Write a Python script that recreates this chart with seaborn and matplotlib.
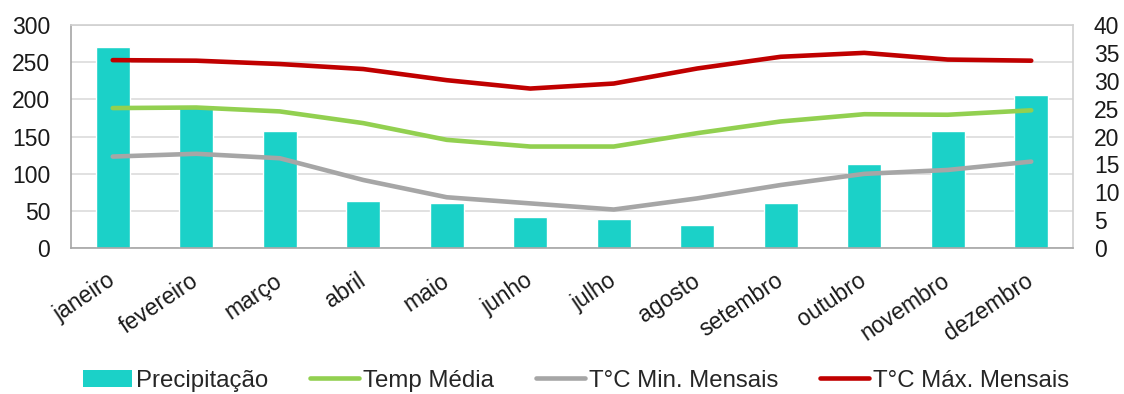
import numpy as np
import pandas as pd
import matplotlib
matplotlib.use("Agg")
import matplotlib.pyplot as plt
from matplotlib.patches import Patch
from matplotlib.lines import Line2D
import seaborn as sns

# Monthly climate normals
meses = ["janeiro", "fevereiro", "março", "abril", "maio", "junho",
         "julho", "agosto", "setembro", "outubro", "novembro", "dezembro"]
precipitacao = [270, 192, 158, 63, 60, 42, 39, 31, 61, 113, 157, 206]
temp_media = [25.1, 25.2, 24.5, 22.4, 19.4, 18.2, 18.2, 20.6, 22.7, 24.0, 23.9, 24.7]
temp_min = [16.4, 16.9, 16.1, 12.2, 9.1, 8.0, 6.9, 8.9, 11.3, 13.3, 14.0, 15.5]
temp_max = [33.7, 33.6, 33.0, 32.1, 30.1, 28.6, 29.5, 32.2, 34.3, 35.0, 33.8, 33.6]

rotulos_esq = [0, 50, 100, 150, 200, 250, 300]
rotulos_dir = [0, 5, 10, 15, 20, 25, 30, 35, 40]

nomes = ["Precipitação", "Temp Média", "T°C Min. Mensais", "T°C Máx. Mensais"]
cores = ["#1BD1C8", "#92D050", "#A6A6A6", "#C00000"]

sns.set_style("white")
plt.rcParams["font.family"] = ["Liberation Sans", "DejaVu Sans"]
FS = 16.5

fig = plt.figure(figsize=(11.24, 3.94), dpi=100)
ax = fig.add_axes([71 / 1124, 1 - 248 / 394, (1073 - 71) / 1124, (248 - 25) / 394])

df_bar = pd.DataFrame({"mes": meses, "precip": precipitacao})
sns.barplot(data=df_bar, x="mes", y="precip", color=cores[0], saturation=1,
            width=0.41, ax=ax, zorder=2)

ax.set_ylim(0, 300)
ax.set_yticks(rotulos_esq)
ax.set_xlim(-0.5, 11.5)
ax.yaxis.grid(True, color="#D9D9D9", linewidth=1.1, zorder=0)
ax.set_axisbelow(True)
ax.set_xlabel("")
ax.set_ylabel("")
ax.tick_params(axis="both", length=0, labelsize=FS, colors="#1a1a1a")
ax.tick_params(axis="y", pad=15)
ax.tick_params(axis="x", pad=22)

for s in ["left", "bottom"]:
    ax.spines[s].set_color("#A6A6A6")
    ax.spines[s].set_linewidth(1.2)
for s in ["top", "right"]:
    ax.spines[s].set_color("#D0D0D0")
    ax.spines[s].set_linewidth(1.2)

ax.set_xticks(range(len(meses)))
ax.set_xticklabels(meses, rotation=34, ha="right", va="center",
                   rotation_mode="anchor")

ax2 = ax.twinx()
df_lin = pd.DataFrame({"x": np.arange(len(meses)), "media": temp_media,
                       "min": temp_min, "max": temp_max})
for col, cor in zip(["media", "min", "max"], cores[1:]):
    sns.lineplot(data=df_lin, x="x", y=col, color=cor, linewidth=3.3, ax=ax2,
                 solid_capstyle="round")
ax2.set_ylim(0, 40)
ax2.set_yticks(rotulos_dir)
ax2.set_xlim(-0.5, 11.5)
ax2.set_ylabel("")
ax2.set_xlabel("")
ax2.tick_params(axis="y", length=0, labelsize=FS, pad=15, colors="#1a1a1a")
for s in ax2.spines.values():
    s.set_visible(False)

handles = [Patch(facecolor=cores[0], edgecolor="none")] + \
          [Line2D([0], [0], color=c, linewidth=3.3) for c in cores[1:]]
fig.legend(handles, nomes, loc="center", bbox_to_anchor=(0.5125, 0.034), ncol=4,
           frameon=False, fontsize=17.3, handlelength=2.05, handletextpad=0.15,
           columnspacing=1.75, handleheight=0.75, borderaxespad=0, borderpad=0.2)

fig.savefig("out.png", dpi=100)
